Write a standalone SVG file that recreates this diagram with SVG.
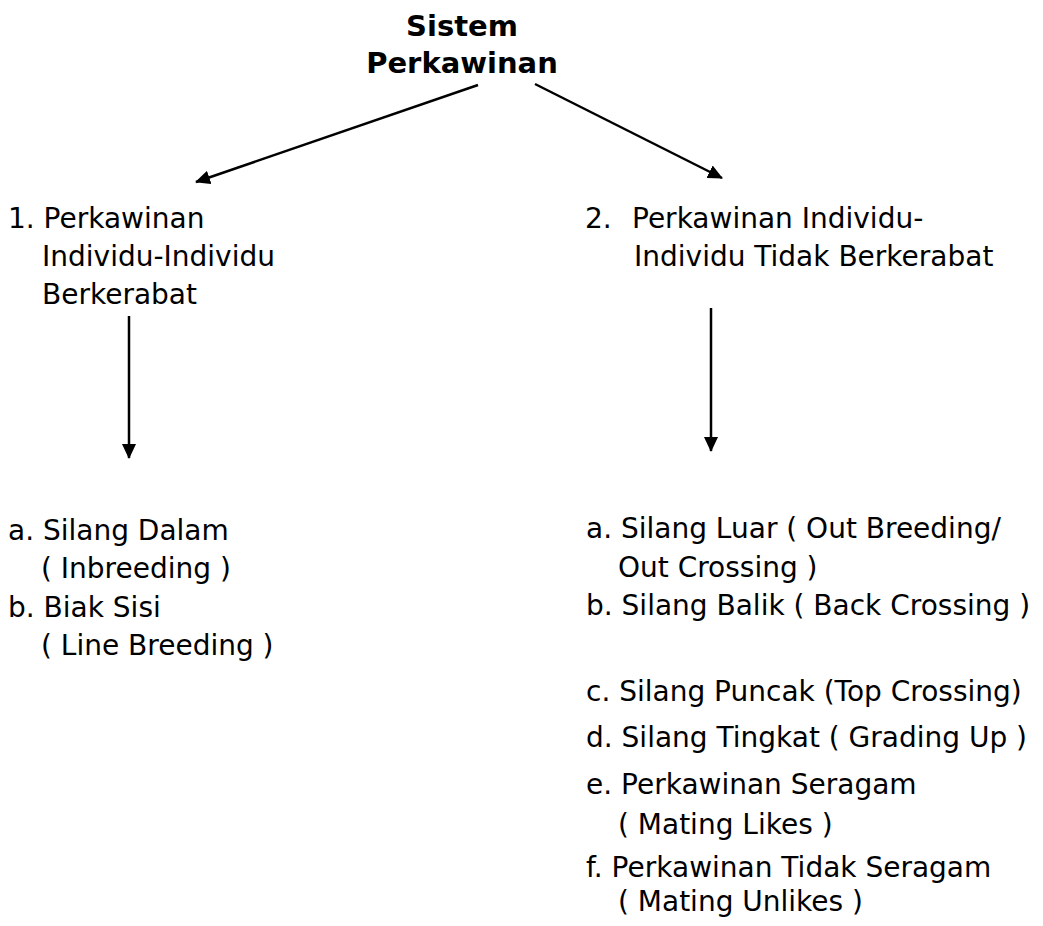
<svg xmlns="http://www.w3.org/2000/svg" width="1043" height="926" viewBox="0 0 1043 926">
<style>
text{font-family:"DejaVu Sans","Liberation Sans",sans-serif;font-size:28px;fill:#000}
.title{font-weight:bold;text-anchor:middle;font-size:29px}
.conn{stroke:#000;stroke-width:2.5;fill:none}
</style>
<defs>
<marker id="ah" markerWidth="15" markerHeight="14" refX="14" refY="7" orient="auto" markerUnits="userSpaceOnUse" viewBox="0 0 15 14">
<path d="M0,0 L15,7 L0,14 z" fill="#000"/>
</marker>
</defs>
<rect width="1043" height="926" fill="#fff"/>
<g id="connectors">
<line class="conn" x1="478" y1="85" x2="196" y2="182" marker-end="url(#ah)"/>
<line class="conn" x1="535" y1="84" x2="722" y2="178" marker-end="url(#ah)"/>
<line class="conn" x1="129" y1="316" x2="129" y2="458" marker-end="url(#ah)"/>
<line class="conn" x1="711" y1="308" x2="711" y2="451" marker-end="url(#ah)"/>
</g>
<g id="root">
<text class="title" x="462" y="36">Sistem</text>
<text class="title" x="462" y="73">Perkawinan</text>
</g>
<g id="n1">
<text x="8" y="228">1. Perkawinan</text>
<text x="42" y="266">Individu-Individu</text>
<text x="42" y="304">Berkerabat</text>
</g>
<g id="n2">
<text y="228"><tspan x="585">2.</tspan><tspan x="632">Perkawinan Individu-</tspan></text>
<text x="634" y="266">Individu Tidak Berkerabat</text>
</g>
<g id="list1">
<text x="8" y="540">a. Silang Dalam</text>
<text x="41" y="578">( Inbreeding )</text>
<text x="8" y="617">b. Biak Sisi</text>
<text x="41" y="655">( Line Breeding )</text>
</g>
<g id="list2">
<text x="586" y="538">a. Silang Luar ( Out Breeding/</text>
<text x="618" y="577">Out Crossing )</text>
<text x="586" y="615">b. Silang Balik ( Back Crossing )</text>
<text x="586" y="701">c. Silang Puncak (Top Crossing)</text>
<text x="586" y="747">d. Silang Tingkat ( Grading Up )</text>
<text x="586" y="794">e. Perkawinan Seragam</text>
<text x="618" y="834">( Mating Likes )</text>
<text x="586" y="877">f. Perkawinan Tidak Seragam</text>
<text x="618" y="911">( Mating Unlikes )</text>
</g>
</svg>
